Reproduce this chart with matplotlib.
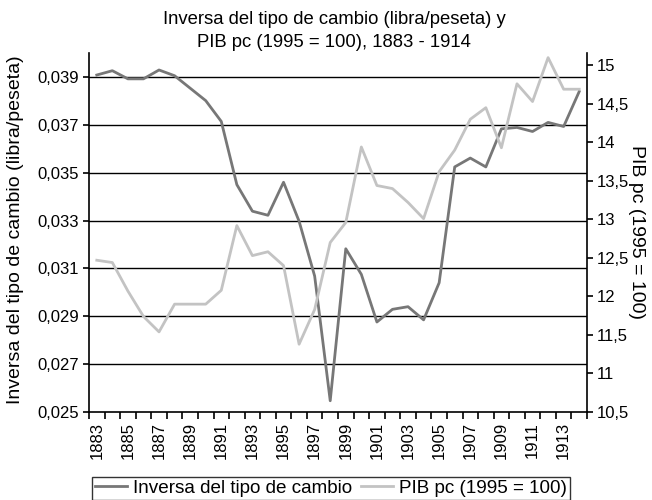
import matplotlib
matplotlib.use("Agg")
import matplotlib.pyplot as plt
from matplotlib.ticker import FixedLocator, FuncFormatter

plt.rcParams['font.family'] = ['Liberation Sans', 'DejaVu Sans']

years = list(range(1883, 1915))
inversa = [0.03908, 0.03926, 0.03892, 0.03892, 0.03929, 0.03905, 0.03853, 0.03801,
           0.03714, 0.03450, 0.03339, 0.03322, 0.03460, 0.03297, 0.03068, 0.02547,
           0.03182, 0.03075, 0.02876, 0.02929, 0.02940, 0.02885, 0.03040, 0.03524,
           0.03561, 0.03524, 0.03683, 0.03689, 0.03672, 0.03710, 0.03693, 0.03839]
pib = [12.47, 12.44, 12.07, 11.74, 11.54, 11.90, 11.90, 11.90,
       12.08, 12.92, 12.53, 12.58, 12.40, 11.38, 11.83, 12.70,
       12.96, 13.94, 13.44, 13.40, 13.22, 13.01, 13.62, 13.90,
       14.30, 14.45, 13.93, 14.76, 14.53, 15.10, 14.69, 14.69]
left_ticks = [0.025, 0.027, 0.029, 0.031, 0.033, 0.035, 0.037, 0.039]
right_ticks = [10.5, 11, 11.5, 12, 12.5, 13, 13.5, 14, 14.5, 15]
title = "Inversa del tipo de cambio (libra/peseta) y\nPIB pc (1995 = 100), 1883 - 1914"
ylabel_left = "Inversa del tipo de cambio (libra/peseta)"
ylabel_right = "PIB pc (1995 = 100)"
label_inv = "Inversa del tipo de cambio"
label_pib = "PIB pc (1995 = 100)"

W, H = 652, 500
fig = plt.figure(figsize=(W / 100, H / 100), dpi=100)
ax = fig.add_axes([89 / W, 1 - 412 / H, (587 - 89) / W, (412 - 53) / H])
ax2 = ax.twinx()

fs_tick = 12
fs_title = 13.3
fs_label = 14
fs_leg = 13.6
x = list(range(len(years)))

for yv in left_ticks[1:]:
    ax.axhline(yv, color='black', lw=1.0, zorder=1)

l1, = ax.plot(x, inversa, color='#777777', lw=2.0, zorder=3, label=label_inv)
l2, = ax2.plot(x, pib, color='#c3c3c3', lw=2.0, zorder=3, label=label_pib)

ax.set_xlim(-0.5, len(years) - 0.5)
ax.set_ylim(0.025, 0.040)
ax2.set_ylim(10.5, 15.16)

ax.yaxis.set_major_locator(FixedLocator(left_ticks))
ax.yaxis.set_major_formatter(FuncFormatter(lambda v, p: f"{v:.3f}".replace('.', ',')))
ax2.yaxis.set_major_locator(FixedLocator(right_ticks))
ax2.yaxis.set_major_formatter(FuncFormatter(lambda v, p: (f"{v:g}").replace('.', ',')))

lab_idx = [i for i, yv in enumerate(years) if (yv - 1883) % 2 == 0]
ax.set_xticks(lab_idx)
ax.set_xticklabels([str(years[i]) for i in lab_idx], rotation=90, fontsize=fs_tick)
ax.set_xticks([i - 0.5 for i in range(len(years) + 1)], minor=True)
ax.tick_params(axis='x', which='major', length=0, pad=7)
ax.tick_params(axis='x', which='minor', length=5, width=1.2, direction='out')
ax.tick_params(axis='y', which='major', length=4, width=1.2, labelsize=fs_tick, pad=3)
ax2.tick_params(axis='y', which='major', length=4, width=1.2, labelsize=fs_tick, pad=3)

for a in (ax, ax2):
    a.spines['top'].set_visible(False)
    for s in ('left', 'right', 'bottom'):
        a.spines[s].set_linewidth(1.2)
ax.spines['right'].set_visible(False)
ax2.spines['left'].set_visible(False)
ax2.spines['bottom'].set_visible(False)

fig.text(334 / W, 1 - 11 / H, title, ha='center', va='top', fontsize=fs_title, linespacing=1.45)
fig.text(16 / W, 1 - 230 / H, ylabel_left, rotation=90, ha='center', va='center', fontsize=fs_label)
fig.text(636 / W, 1 - 232 / H, ylabel_right, rotation=270, ha='center', va='center', fontsize=fs_label)

leg = fig.legend([l1, l2], [label_inv, label_pib], loc='upper left',
                 bbox_to_anchor=(92 / W, 1 - 477 / H), ncol=2, fontsize=fs_leg,
                 frameon=True, fancybox=False, handlelength=1.7, handletextpad=0.3,
                 columnspacing=0.5, borderpad=0.15, borderaxespad=0)
leg.get_frame().set_edgecolor('black')
leg.get_frame().set_linewidth(1.0)

fig.savefig('out.png', dpi=100)
